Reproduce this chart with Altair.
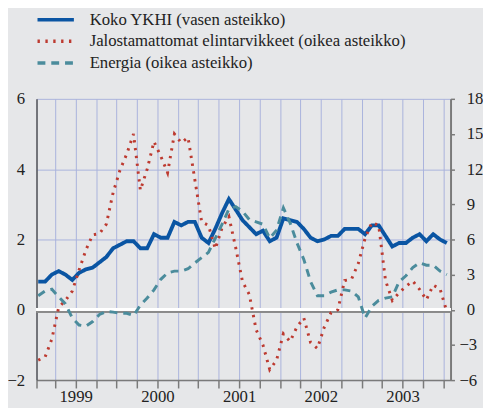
import altair as alt
import pandas as pd

# Months from Jan 1999 (0) to Jan 2004 (60)
months = list(range(61))
year_labels = ["1999", "2000", "2001", "2002", "2003"]

series_names = [
    "Koko YKHI (vasen asteikko)",
    "Jalostamattomat elintarvikkeet (oikea asteikko)",
    "Energia (oikea asteikko)",
]

koko = [0.8, 0.8, 1.0, 1.1, 1.0, 0.85, 1.05, 1.15, 1.2, 1.35, 1.5, 1.75, 1.85, 1.95, 1.95,
        1.75, 1.75, 2.15, 2.05, 2.05, 2.5, 2.4, 2.5, 2.5, 2.05, 1.9, 2.3, 2.75, 3.15, 2.85, 2.55,
        2.35, 2.15, 2.25, 1.95, 2.05, 2.6, 2.55, 2.5, 2.3, 2.05, 1.95, 2.0, 2.1, 2.1, 2.3,
        2.3, 2.3, 2.15, 2.4, 2.4, 2.1, 1.8, 1.9, 1.9, 2.05, 2.15, 1.95, 2.15, 2.0, 1.9]

jalost = [-4.3, -4.05, -2.5, 0.2, 0.8, 1.6, 3.4, 5.1, 6.4, 6.5, 7.3, 10.0, 11.9, 13.3, 15.0,
          10.2, 12.0, 14.35, 13.1, 11.7, 15.0, 14.25, 14.7, 11.1, 7.5, 7.2, 5.2, 7.0, 7.95, 5.3,
          2.4, 1.3, -1.7, -3.0, -5.1, -4.3, -2.05, -2.7, -1.45, -0.7, -2.8, -3.3, -1.5, -0.25,
          0.0, 2.5, 2.6, 3.95, 6.1, 7.45, 7.2, 2.5, 0.8, 1.45, 2.0, 2.45, 1.75, 0.85, 2.1, 1.8,
          -0.15]

energia = [1.2, 1.6, 1.75, 1.1, 0.5, -0.7, -1.3, -1.4, -1.0, -0.4, -0.15, -0.2, -0.3, -0.3,
           -0.5, 0.4, 1.0, 1.7, 2.6, 3.15, 3.3, 3.3, 3.5, 4.0, 4.45, 4.9, 6.1, 7.3, 8.6, 8.8,
           8.4, 7.7, 7.5, 7.3, 6.1, 6.8, 8.7, 7.4, 5.7, 4.3, 2.4, 1.2, 1.2, 1.5, 1.7, 1.7,
           1.6, 1.1, -0.7, 0.3, 0.8, 1.0, 1.1, 2.4, 2.9, 3.6, 4.0, 3.8, 3.8, 3.3, 3.0]

left_ticks = [-2, 0, 2, 4, 6]
right_ticks = [-6, -3, 0, 3, 6, 9, 12, 15, 18]
x_ticks = [0.25] + list(range(3, 61, 3))

colors = ["#0a55a3", "#bd3a30", "#4b8c9c"]
dashes = [[1, 0], [2.4, 5.6], [8, 6]]

FONT = "Liberation Serif, Tinos, DejaVu Serif, Noto Serif, serif"
GRID = "#a9b3dc"
AXIS = "#7a7a7a"
TXT = "#222222"

t = [m + 0.5 for m in months]
df_left = pd.DataFrame({"t": t, "value": koko, "series": series_names[0]})
df_right = pd.concat([
    pd.DataFrame({"t": t, "value": jalost, "series": series_names[1]}),
    pd.DataFrame({"t": t, "value": energia, "series": series_names[2]}),
])

# label expression built from the year labels (mid-year ticks)
expr = "''"
for k, lab in reversed(list(enumerate(year_labels))):
    expr = f"datum.value == {6 + 12 * k} ? '{lab}' : ({expr})"

# wide custom stroke symbol: 37 px long with a small nominal size (keeps rows tight)
legend = alt.Legend(
    orient="none", legendX=11, legendY=-89, title=None,
    symbolType="M-3,0H3", symbolSize=152, symbolStrokeWidth=3.5,
    labelFont=FONT, labelFontSize=17, labelColor=TXT, labelOffset=26,
    labelLimit=600, rowPadding=4, direction="vertical",
)

color = alt.Color("series:N", scale=alt.Scale(domain=series_names, range=colors), legend=legend)
dash = alt.StrokeDash("series:N", scale=alt.Scale(domain=series_names, range=dashes), legend=legend)

xenc = alt.X(
    "t:Q",
    scale=alt.Scale(domain=[0.25, 61.05], nice=False, zero=False),
    axis=alt.Axis(
        values=x_ticks, labelExpr=expr, title=None, grid=True, gridColor=GRID, gridWidth=1,
        domainColor=AXIS, domainWidth=1.5, tickColor=AXIS, tickWidth=1.5, tickSize=8,
        labelFont=FONT, labelFontSize=17, labelColor=TXT, labelPadding=1,
        labelOverlap=False, labelFlush=False,
    ),
)

yleft_scale = alt.Scale(domain=[-2, 6], nice=False, zero=False)
yleft_axis = alt.Axis(
    orient="left", values=left_ticks, title=None, ticks=False, grid=True, gridColor=GRID,
    gridWidth=1, domainColor="#555555", domainWidth=1.5, labelFont=FONT, labelFontSize=17,
    labelColor=TXT, labelPadding=12, labelOverlap=False,
)

zero_shadow = alt.Chart(df_left).mark_rule(color="#8a8a8a", strokeWidth=1.5, yOffset=1.7).encode(
    y=alt.datum(0, scale=yleft_scale, axis=yleft_axis)
)
zero_line = alt.Chart(df_left).mark_rule(color="white", strokeWidth=2.2, yOffset=-0.6).encode(
    y=alt.datum(0)
)
blue = alt.Chart(df_left).mark_line(strokeWidth=3.9, strokeJoin="miter").encode(
    x=xenc,
    y=alt.Y("value:Q", scale=yleft_scale, axis=yleft_axis),
    color=color,
    strokeDash=dash,
)
left = alt.layer(zero_shadow, zero_line, blue)

right = alt.Chart(df_right).mark_line(strokeWidth=3.0).encode(
    x=xenc,
    y=alt.Y(
        "value:Q",
        scale=alt.Scale(domain=[-6, 18], nice=False, zero=False),
        axis=alt.Axis(
            orient="right", values=right_ticks, title=None, grid=False,
            domainColor=AXIS, domainWidth=2, tickColor=AXIS, tickWidth=1.5, tickSize=4,
            labelFont=FONT, labelFontSize=17, labelColor=TXT, labelAlign="left",
            labelPadding={"condition": {"test": "datum.value < 0", "value": 4.5}, "value": 12},
            labelOverlap=False,
        ),
    ),
    color=color,
    strokeDash=dash,
    detail="series:N",
)

chart = alt.layer(left, right).resolve_scale(y="independent").properties(
    width=421, height=286,
    background="#e6e7e9",
    padding={"left": 29, "top": 89, "right": 33, "bottom": 25},
    autosize=alt.AutoSizeParams(type="none"),
).configure_view(stroke=None)

chart.save("out.html", embed_options={"renderer": "svg", "actions": False})
